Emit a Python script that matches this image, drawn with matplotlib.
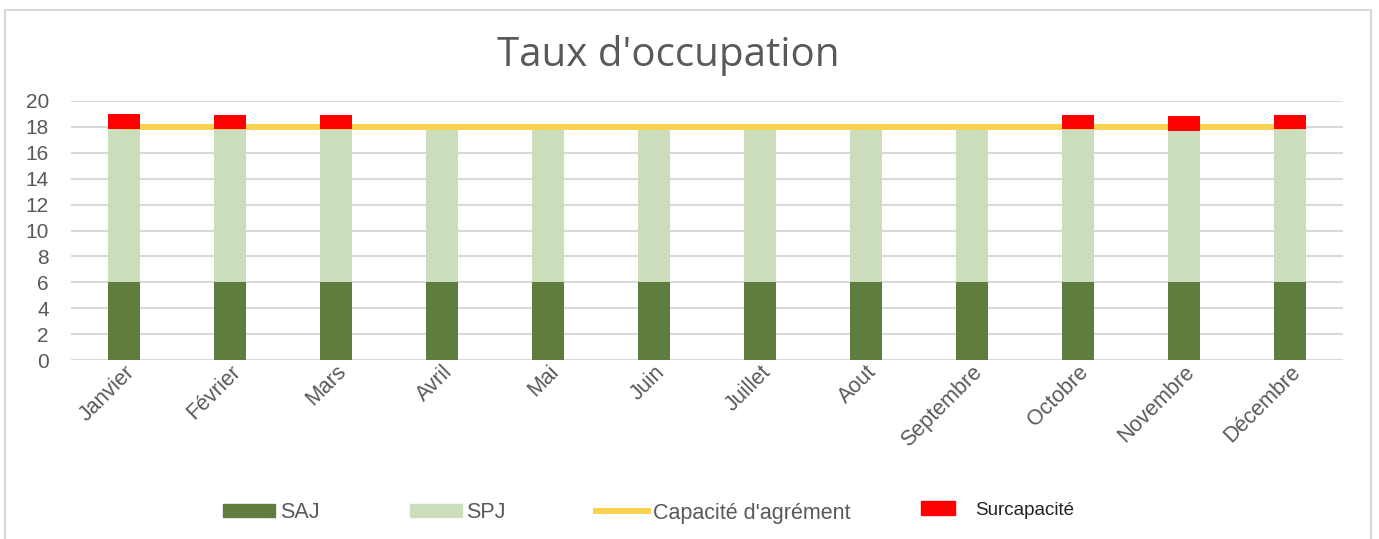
import numpy as np
import matplotlib.pyplot as plt
from matplotlib.patches import Patch, Rectangle
from matplotlib.lines import Line2D

months = ['Janvier', 'Février', 'Mars', 'Avril', 'Mai', 'Juin', 'Juillet',
          'Aout', 'Septembre', 'Octobre', 'Novembre', 'Décembre']
saj = [6, 6, 6, 6, 6, 6, 6, 6, 6, 6, 6, 6]
spj = [11.85, 11.8, 11.8, 11.8, 11.8, 11.8, 11.8, 11.8, 11.8, 11.8, 11.7, 11.8]
capacite = [18] * 12
surcap = [1.15, 1.15, 1.15, 0, 0, 0, 0, 0, 0, 1.15, 1.15, 1.1]

c_saj = '#5E7D3E'
c_spj = '#CCDDBB'
c_line = '#F9D34B'
c_red = '#FF0000'
c_txt = '#595959'
c_grid = '#D9D9D9'

plt.rcParams['font.family'] = ['Liberation Sans', 'DejaVu Sans']

fig = plt.figure(figsize=(13.79, 5.39), dpi=100)
ax = fig.add_axes([71 / 1379, 1 - 360 / 539, 1272 / 1379, 259 / 539])

x = np.arange(len(months))
w = 0.31
bottom_red = np.array(saj) + np.array(spj)
ax.bar(x, saj, w, color=c_saj, zorder=2)
ax.bar(x, spj, w, bottom=saj, color=c_spj, zorder=2)
ax.plot(x, capacite, color=c_line, lw=4.3, zorder=3, solid_capstyle='butt')
ax.bar(x, surcap, w, bottom=bottom_red, color=c_red, zorder=4)

ax.set_xlim(-0.5, 11.5)
ax.set_ylim(0, 20)
ax.set_yticks(range(0, 21, 2))
ax.set_xticks(x)
ax.set_xticklabels(months, rotation=45, ha='right', rotation_mode='anchor')
ax.grid(axis='y', color=c_grid, lw=1.5, zorder=0)
ax.set_axisbelow(True)
for s in ax.spines.values():
    s.set_visible(False)
ax.tick_params(axis='y', length=0, pad=16, labelsize=15, labelcolor=c_txt)
ax.tick_params(axis='x', length=0, pad=1, labelsize=15.5, labelcolor=c_txt)

fig.text(668 / 1379, 1 - 55 / 539, "Taux d'occupation", ha='center', va='center',
         fontsize=29, color=c_txt, family=['Open Sans', 'DejaVu Sans'])

# cadre du graphique
fig.patches.append(Rectangle((5 / 1379, -0.01), 1366 / 1379, 1 - 10 / 539 + 0.01,
                             transform=fig.transFigure, fill=False,
                             edgecolor=c_grid, lw=1.5))

h1 = [Patch(color=c_saj), Patch(color=c_spj), Line2D([], [], color=c_line, lw=4.3)]
leg1 = fig.legend(h1, ['SAJ', 'SPJ', "Capacité d'agrément"], loc='center left',
                  bbox_to_anchor=(204 / 1379, 1 - 513 / 539), ncol=3, frameon=False,
                  fontsize=15.5, labelcolor=c_txt, handlelength=2.42, handleheight=0.55,
                  handletextpad=0.2, columnspacing=4.2)
leg2 = fig.legend([Patch(color=c_red)], ['Surcapacité'], loc='center left',
                  bbox_to_anchor=(904 / 1379, 1 - 510 / 539), frameon=False,
                  fontsize=13.5, labelcolor='#222222', handlelength=1.8, handleheight=0.75,
                  handletextpad=1.07)

fig.savefig('out.png', dpi=100)
